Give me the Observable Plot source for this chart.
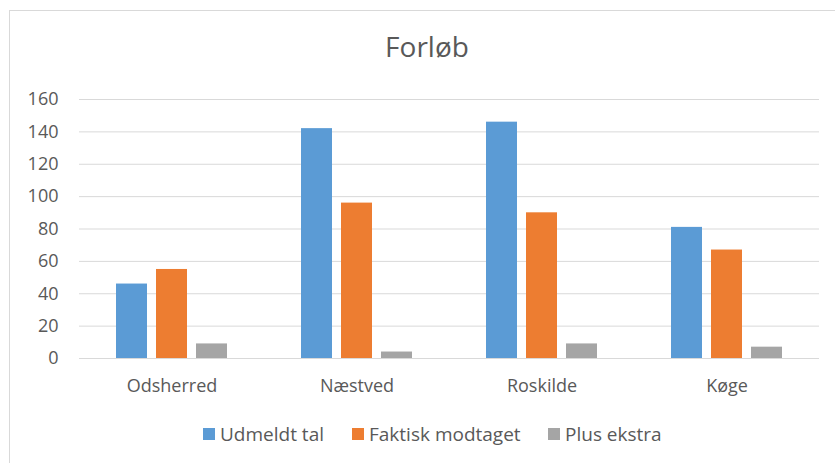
<!DOCTYPE html>
<html>
<head>
<meta charset="utf-8">
<script src="https://cdn.jsdelivr.net/npm/d3@7"></script>
<script src="https://cdn.jsdelivr.net/npm/@observablehq/plot@0.6"></script>
<style>
  html, body { margin: 0; padding: 0; background: #fff; }
  #wrap { position: relative; width: 835px; height: 463px; overflow: hidden; font-family: "Open Sans", sans-serif; color: #595959; }
  #frame { position: absolute; left: 9px; top: 10px; width: 840px; height: 470px; border: 1px solid #d9d9d9; box-sizing: border-box; }
  #title { position: relative; height: 80px; width: 854px; text-align: center; font-size: 28px; line-height: 28px; box-sizing: border-box; }
  #title span { position: absolute; left: 0; right: 0; top: 32px; }
  #chart { position: relative; height: 330px; }
  #legend { position: relative; height: 53px; font-size: 19px; }
  .li { position: absolute; top: 11px; display: flex; align-items: center; white-space: nowrap; }
  .sw { width: 12px; height: 12px; margin-right: 5px; }
</style>
</head>
<body>
<div id="wrap">
  <div id="frame"></div>
  <div id="title"><span>Forløb</span></div>
  <div id="chart"></div>
  <div id="legend"></div>
</div>
<script>
const cities = ["Odsherred", "Næstved", "Roskilde", "Køge"];
const series = ["Udmeldt tal", "Faktisk modtaget", "Plus ekstra"];
const udmeldt = [46, 142, 146, 81];
const faktisk = [55, 96, 90, 67];
const plusEkstra = [9, 4, 9, 7];
const colors = ["#5b9bd5", "#ed7d31", "#a5a5a5"];
const yTicks = [0, 20, 40, 60, 80, 100, 120, 140, 160];

const valuesBySeries = [udmeldt, faktisk, plusEkstra];
const data = [];
cities.forEach((c, i) => {
  series.forEach((s, j) => data.push({city: c, series: s, value: valuesBySeries[j][i]}));
});

const plot = Plot.plot({
  width: 835,
  height: 330,
  marginLeft: 78,
  marginRight: 16,
  marginTop: 19,
  marginBottom: 52,
  style: {fontFamily: "Open Sans, sans-serif", fontSize: "18px", color: "#595959", background: "transparent"},
  fx: {domain: cities, padding: 0, label: null, axis: null},
  x: {domain: series, paddingInner: 0.22, paddingOuter: 0.87, axis: null},
  y: {domain: [0, 160], ticks: yTicks, label: null},
  color: {domain: series, range: colors},
  marks: [
    Plot.gridY(yTicks, {stroke: "#d9d9d9", strokeOpacity: 1, strokeWidth: 1}),
    Plot.axisY(yTicks, {tickSize: 0, tickPadding: 21, label: null, fill: "#595959", fontSize: 18}),
    Plot.barY(data, {fx: "city", x: "series", y: "value", fill: "series"}),
    Plot.axisFx({anchor: "bottom", tickSize: 0, tickPadding: 21, label: null, fill: "#595959", fontSize: 18})
  ]
});
document.getElementById("chart").appendChild(plot);

const legend = document.getElementById("legend");
const lx = [203, 352, 548];
series.forEach((s, j) => {
  const item = document.createElement("div");
  item.className = "li";
  item.style.left = lx[j] + "px";
  item.innerHTML = `<div class="sw" style="background:${colors[j]}"></div><span>${s}</span>`;
  legend.appendChild(item);
});
</script>
</body>
</html>
